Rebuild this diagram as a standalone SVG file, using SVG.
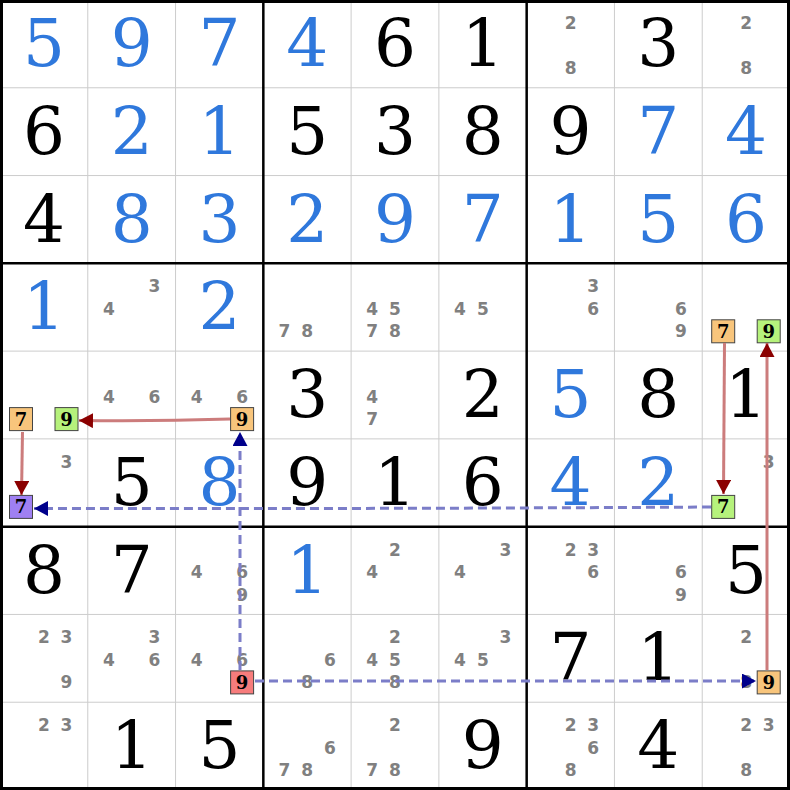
<svg xmlns="http://www.w3.org/2000/svg" width="790" height="790" viewBox="0 0 790 790">
<style>
.g{font-family:"DejaVu Serif","Liberation Serif",serif;font-size:66px;text-anchor:middle}
.b{fill:#2f78dc}
.k{fill:#000}
.c{font-family:"DejaVu Sans","Liberation Sans",sans-serif;font-size:17px;font-weight:bold;fill:#808080;text-anchor:middle}
.bx{stroke:#444;stroke-width:1}
.bt{font-family:"DejaVu Serif","Liberation Serif",serif;font-size:18px;font-weight:bold;fill:#000;text-anchor:middle}
.or{fill:#f8c57c}.gr{fill:#b6f27c}.pu{fill:#9f80f2}.rd{fill:#f77c7c}
.thin{stroke:#cccccc;stroke-width:1}
.thick{stroke:#000;stroke-width:2.5}
.red{fill:none;stroke:#cc7c7c;stroke-width:3}
.blu{fill:none;stroke:#7b7dc8;stroke-width:3;stroke-dasharray:9 5}
</style>
<defs>
<marker id="ar" markerUnits="userSpaceOnUse" markerWidth="15" markerHeight="15" refX="14" refY="7.5" orient="auto"><path d="M0,0 L14,7.5 L0,15 z" fill="#8b0000"/></marker>
<marker id="ab" markerUnits="userSpaceOnUse" markerWidth="15" markerHeight="15" refX="14" refY="7.5" orient="auto"><path d="M0,0 L14,7.5 L0,15 z" fill="#00008b"/></marker>
</defs>
<rect width="790" height="790" fill="#fff"/>
<g id="grid">
<path class="thin" d="M87.78,0V790M175.56,0V790M351.11,0V790M438.89,0V790M614.44,0V790M702.22,0V790M0,87.78H790M0,175.56H790M0,351.11H790M0,438.89H790M0,614.44H790M0,702.22H790"/>
<path class="thick" d="M263.33,0V790M526.67,0V790M0,263.33H790M0,526.67H790"/>
<rect x="1.5" y="1.5" width="787" height="787" fill="none" stroke="#000" stroke-width="3"/>
</g>
<g id="r0c0"><text class="g b" x="43.9" y="66">5</text></g>
<g id="r0c1"><text class="g b" x="131.7" y="66">9</text></g>
<g id="r0c2"><text class="g b" x="219.4" y="66">7</text></g>
<g id="r0c3"><text class="g b" x="307.2" y="66">4</text></g>
<g id="r0c4"><text class="g k" x="395" y="66">6</text></g>
<g id="r0c5"><text class="g k" x="482.8" y="66">1</text></g>
<g id="r0c6"><text class="c" x="570.6" y="29">2</text><text class="c" x="570.6" y="74">8</text></g>
<g id="r0c7"><text class="g k" x="658.3" y="66">3</text></g>
<g id="r0c8"><text class="c" x="746.1" y="29">2</text><text class="c" x="746.1" y="74">8</text></g>
<g id="r1c0"><text class="g k" x="43.9" y="153.8">6</text></g>
<g id="r1c1"><text class="g b" x="131.7" y="153.8">2</text></g>
<g id="r1c2"><text class="g b" x="219.4" y="153.8">1</text></g>
<g id="r1c3"><text class="g k" x="307.2" y="153.8">5</text></g>
<g id="r1c4"><text class="g k" x="395" y="153.8">3</text></g>
<g id="r1c5"><text class="g k" x="482.8" y="153.8">8</text></g>
<g id="r1c6"><text class="g k" x="570.6" y="153.8">9</text></g>
<g id="r1c7"><text class="g b" x="658.3" y="153.8">7</text></g>
<g id="r1c8"><text class="g b" x="746.1" y="153.8">4</text></g>
<g id="r2c0"><text class="g k" x="43.9" y="241.6">4</text></g>
<g id="r2c1"><text class="g b" x="131.7" y="241.6">8</text></g>
<g id="r2c2"><text class="g b" x="219.4" y="241.6">3</text></g>
<g id="r2c3"><text class="g b" x="307.2" y="241.6">2</text></g>
<g id="r2c4"><text class="g b" x="395" y="241.6">9</text></g>
<g id="r2c5"><text class="g b" x="482.8" y="241.6">7</text></g>
<g id="r2c6"><text class="g b" x="570.6" y="241.6">1</text></g>
<g id="r2c7"><text class="g b" x="658.3" y="241.6">5</text></g>
<g id="r2c8"><text class="g b" x="746.1" y="241.6">6</text></g>
<g id="r3c0"><text class="g b" x="43.9" y="329.3">1</text></g>
<g id="r3c1"><text class="c" x="154.3" y="292.3">3</text><text class="c" x="108.8" y="314.8">4</text></g>
<g id="r3c2"><text class="g b" x="219.4" y="329.3">2</text></g>
<g id="r3c3"><text class="c" x="284.3" y="337.3">7</text><text class="c" x="307.2" y="337.3">8</text></g>
<g id="r3c4"><text class="c" x="372.1" y="314.8">4</text><text class="c" x="395" y="314.8">5</text><text class="c" x="372.1" y="337.3">7</text><text class="c" x="395" y="337.3">8</text></g>
<g id="r3c5"><text class="c" x="459.9" y="314.8">4</text><text class="c" x="482.8" y="314.8">5</text></g>
<g id="r3c6"><text class="c" x="593.2" y="292.3">3</text><text class="c" x="593.2" y="314.8">6</text></g>
<g id="r3c7"><text class="c" x="680.9" y="314.8">6</text><text class="c" x="680.9" y="337.3">9</text></g>
<g id="r3c8"><rect class="bx or" x="711.7" y="319.8" width="23" height="23"/><text class="bt" x="723.2" y="337.8">7</text><rect class="bx gr" x="757.2" y="319.8" width="23" height="23"/><text class="bt" x="768.7" y="337.8">9</text></g>
<g id="r4c0"><rect class="bx or" x="9.5" y="407.6" width="23" height="23"/><text class="bt" x="21" y="425.6">7</text><rect class="bx gr" x="55" y="407.6" width="23" height="23"/><text class="bt" x="66.5" y="425.6">9</text></g>
<g id="r4c1"><text class="c" x="108.8" y="402.6">4</text><text class="c" x="154.3" y="402.6">6</text></g>
<g id="r4c2"><text class="c" x="196.6" y="402.6">4</text><text class="c" x="242.1" y="402.6">6</text><rect class="bx or" x="230.6" y="407.6" width="23" height="23"/><text class="bt" x="242.1" y="425.6">9</text></g>
<g id="r4c3"><text class="g k" x="307.2" y="417.1">3</text></g>
<g id="r4c4"><text class="c" x="372.1" y="402.6">4</text><text class="c" x="372.1" y="425.1">7</text></g>
<g id="r4c5"><text class="g k" x="482.8" y="417.1">2</text></g>
<g id="r4c6"><text class="g b" x="570.6" y="417.1">5</text></g>
<g id="r4c7"><text class="g k" x="658.3" y="417.1">8</text></g>
<g id="r4c8"><text class="g k" x="746.1" y="417.1">1</text></g>
<g id="r5c0"><text class="c" x="66.5" y="467.9">3</text><rect class="bx pu" x="9.5" y="495.4" width="23" height="23"/><text class="bt" x="21" y="513.4">7</text></g>
<g id="r5c1"><text class="g k" x="131.7" y="504.9">5</text></g>
<g id="r5c2"><text class="g b" x="219.4" y="504.9">8</text></g>
<g id="r5c3"><text class="g k" x="307.2" y="504.9">9</text></g>
<g id="r5c4"><text class="g k" x="395" y="504.9">1</text></g>
<g id="r5c5"><text class="g k" x="482.8" y="504.9">6</text></g>
<g id="r5c6"><text class="g b" x="570.6" y="504.9">4</text></g>
<g id="r5c7"><text class="g b" x="658.3" y="504.9">2</text></g>
<g id="r5c8"><text class="c" x="768.7" y="467.9">3</text><rect class="bx gr" x="711.7" y="495.4" width="23" height="23"/><text class="bt" x="723.2" y="513.4">7</text></g>
<g id="r6c0"><text class="g k" x="43.9" y="592.7">8</text></g>
<g id="r6c1"><text class="g k" x="131.7" y="592.7">7</text></g>
<g id="r6c2"><text class="c" x="196.6" y="578.2">4</text><text class="c" x="242.1" y="578.2">6</text><text class="c" x="242.1" y="600.7">9</text></g>
<g id="r6c3"><text class="g b" x="307.2" y="592.7">1</text></g>
<g id="r6c4"><text class="c" x="395" y="555.7">2</text><text class="c" x="372.1" y="578.2">4</text></g>
<g id="r6c5"><text class="c" x="505.4" y="555.7">3</text><text class="c" x="459.9" y="578.2">4</text></g>
<g id="r6c6"><text class="c" x="570.6" y="555.7">2</text><text class="c" x="593.2" y="555.7">3</text><text class="c" x="593.2" y="578.2">6</text></g>
<g id="r6c7"><text class="c" x="680.9" y="578.2">6</text><text class="c" x="680.9" y="600.7">9</text></g>
<g id="r6c8"><text class="g k" x="746.1" y="592.7">5</text></g>
<g id="r7c0"><text class="c" x="43.9" y="643.4">2</text><text class="c" x="66.5" y="643.4">3</text><text class="c" x="66.5" y="688.4">9</text></g>
<g id="r7c1"><text class="c" x="154.3" y="643.4">3</text><text class="c" x="108.8" y="665.9">4</text><text class="c" x="154.3" y="665.9">6</text></g>
<g id="r7c2"><text class="c" x="196.6" y="665.9">4</text><text class="c" x="242.1" y="665.9">6</text><rect class="bx rd" x="230.6" y="670.9" width="23" height="23"/><text class="bt" x="242.1" y="688.9">9</text></g>
<g id="r7c3"><text class="c" x="329.8" y="665.9">6</text><text class="c" x="307.2" y="688.4">8</text></g>
<g id="r7c4"><text class="c" x="395" y="643.4">2</text><text class="c" x="372.1" y="665.9">4</text><text class="c" x="395" y="665.9">5</text><text class="c" x="395" y="688.4">8</text></g>
<g id="r7c5"><text class="c" x="505.4" y="643.4">3</text><text class="c" x="459.9" y="665.9">4</text><text class="c" x="482.8" y="665.9">5</text></g>
<g id="r7c6"><text class="g k" x="570.6" y="680.4">7</text></g>
<g id="r7c7"><text class="g k" x="658.3" y="680.4">1</text></g>
<g id="r7c8"><text class="c" x="746.1" y="643.4">2</text><text class="c" x="746.1" y="688.4">8</text><rect class="bx or" x="757.2" y="670.9" width="23" height="23"/><text class="bt" x="768.7" y="688.9">9</text></g>
<g id="r8c0"><text class="c" x="43.9" y="731.2">2</text><text class="c" x="66.5" y="731.2">3</text></g>
<g id="r8c1"><text class="g k" x="131.7" y="768.2">1</text></g>
<g id="r8c2"><text class="g k" x="219.4" y="768.2">5</text></g>
<g id="r8c3"><text class="c" x="329.8" y="753.7">6</text><text class="c" x="284.3" y="776.2">7</text><text class="c" x="307.2" y="776.2">8</text></g>
<g id="r8c4"><text class="c" x="395" y="731.2">2</text><text class="c" x="372.1" y="776.2">7</text><text class="c" x="395" y="776.2">8</text></g>
<g id="r8c5"><text class="g k" x="482.8" y="768.2">9</text></g>
<g id="r8c6"><text class="c" x="570.6" y="731.2">2</text><text class="c" x="593.2" y="731.2">3</text><text class="c" x="593.2" y="753.7">6</text><text class="c" x="570.6" y="776.2">8</text></g>
<g id="r8c7"><text class="g k" x="658.3" y="768.2">4</text></g>
<g id="r8c8"><text class="c" x="746.1" y="731.2">2</text><text class="c" x="768.7" y="731.2">3</text><text class="c" x="746.1" y="776.2">8</text></g>
<g id="connectors">
<path class="red" d="M230,419 Q155,421.5 79,420.5" marker-end="url(#ar)"/>
<path class="red" d="M22.5,432 Q22,462 21.5,495" marker-end="url(#ar)"/>
<path class="blu" d="M711,507 Q372,509 34,508.5" marker-end="url(#ab)"/>
<path class="blu" d="M240,670 L240,432" marker-end="url(#ab)"/>
<path class="blu" d="M255,681 L756,681" marker-end="url(#ab)"/>
<path class="red" d="M767,670 L767,343" marker-end="url(#ar)"/>
<path class="red" d="M724.5,343 L723.5,494" marker-end="url(#ar)"/>
</g>
</svg>
